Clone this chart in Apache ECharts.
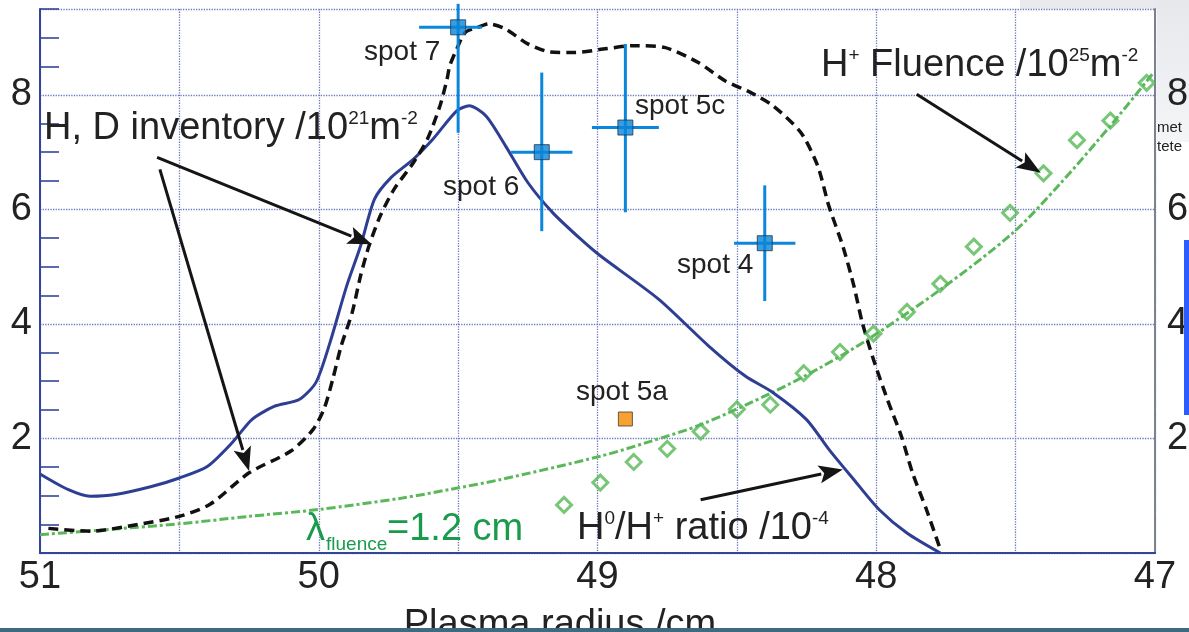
<!DOCTYPE html>
<html>
<head>
<meta charset="utf-8">
<script src="https://cdn.jsdelivr.net/npm/echarts@6/dist/echarts.min.js"></script>
<style>
  html, body { margin: 0; padding: 0; background: #fff; }
  #chart { width: 1189px; height: 632px; }
</style>
</head>
<body>
<div id="chart"></div>
<script>
// H0/H+ ratio (x10^-4) along plasma radius (cm)
const ratioX = [51.0, 50.90, 50.82, 50.73, 50.60, 50.50, 50.40, 50.31, 50.24, 50.16, 50.07, 50.01, 49.96, 49.90, 49.85, 49.80, 49.74, 49.66, 49.59, 49.505, 49.46, 49.40, 49.33, 49.25, 49.16, 49.06, 48.99, 48.78, 48.60, 48.47, 48.37, 48.25, 48.17, 48.08, 47.99, 47.89, 47.77];
const ratioY = [1.38, 1.11, 0.99, 1.02, 1.16, 1.31, 1.51, 1.93, 2.33, 2.56, 2.68, 2.98, 3.67, 4.66, 5.36, 6.18, 6.56, 6.88, 7.23, 7.72, 7.81, 7.63, 7.11, 6.47, 5.94, 5.48, 5.19, 4.43, 3.61, 3.09, 2.80, 2.33, 1.81, 1.28, 0.76, 0.35, 0.0];

// H, D inventory (x10^21 m^-2)
const invX = [50.97, 50.82, 50.67, 50.50, 50.39, 50.25, 50.10, 50.02, 49.98, 49.95, 49.92, 49.88, 49.85, 49.82, 49.78, 49.73, 49.66, 49.61, 49.565, 49.54, 49.53, 49.505, 49.475, 49.43, 49.39, 49.33, 49.25, 49.17, 49.08, 48.98, 48.87, 48.76, 48.64, 48.54, 48.45, 48.37, 48.27, 48.21, 48.17, 48.12, 48.08, 48.05, 48.01, 47.96, 47.91, 47.87, 47.82, 47.77];
const invY = [0.43, 0.38, 0.48, 0.64, 0.85, 1.40, 1.78, 2.16, 2.53, 3.03, 3.61, 4.20, 4.84, 5.36, 5.88, 6.35, 6.82, 7.23, 7.81, 8.27, 8.51, 8.80, 9.09, 9.18, 9.24, 9.15, 8.89, 8.75, 8.74, 8.80, 8.86, 8.83, 8.57, 8.24, 8.04, 7.81, 7.34, 6.76, 6.06, 5.36, 4.66, 4.02, 3.38, 2.68, 2.04, 1.40, 0.76, 0.06];

// H+ fluence fit, lambda = 1.2 cm (x10^25 m^-2)
const fitX = [51.0, 50.5, 50.25, 50.0, 49.7, 49.53, 49.35, 48.99, 48.81, 48.63, 48.37, 48.2, 48.03, 47.77, 47.51, 47.34, 47.15, 47.01];
const fitY = [0.32, 0.51, 0.64, 0.76, 0.96, 1.11, 1.28, 1.69, 1.95, 2.24, 2.81, 3.24, 3.73, 4.60, 5.59, 6.45, 7.52, 8.36];

// H+ fluence, measured points
const fluX = [49.12, 48.99, 48.87, 48.75, 48.63, 48.50, 48.38, 48.26, 48.13, 48.01, 47.89, 47.77, 47.65, 47.52, 47.40, 47.28, 47.16, 47.03];
const fluY = [0.84, 1.23, 1.59, 1.82, 2.12, 2.51, 2.59, 3.14, 3.51, 3.83, 4.21, 4.70, 5.35, 5.94, 6.63, 7.21, 7.55, 8.21];

// Spots with error bars: centre, x range, y range
const spotNames = ['spot 7', 'spot 6', 'spot 5c', 'spot 4'];
const spotX = [49.50, 49.20, 48.90, 48.40];
const spotY = [9.18, 7.00, 7.43, 5.41];
const spotXLo = [49.64, 49.31, 49.02, 48.51];
const spotXHi = [49.415, 49.09, 48.78, 48.29];
const spotYLo = [7.34, 5.62, 5.95, 4.40];
const spotYHi = [9.59, 8.39, 8.89, 6.42];

const spot5aX = [48.90];
const spot5aY = [2.34];

// Axis ticks
const xTicks = [51, 50, 49, 48, 47];
const yLabelTicks = [2, 4, 6, 8];
const yMinorTicks = [0.5, 1, 1.5, 2.5, 3, 3.5, 4.5, 5, 5.5, 6.5, 7, 7.5, 8.5, 9, 9.5];

// Annotation arrows: [fromX, fromY, toX, toY]
const arrowFromX = [50.58, 50.57, 47.855, 48.63];
const arrowFromY = [6.91, 6.70, 8.01, 0.93];
const arrowToX = [49.81, 50.25, 47.41, 48.12];
const arrowToY = [5.39, 1.43, 6.64, 1.46];

const zip = (a, b) => a.map((v, i) => [v, b[i]]);
const FONT = '"Liberation Sans", Arial, Helvetica, sans-serif';
const NAVY = '#33459a';
const GRIDC = '#6b78bc';

function rich(size, color) {
  return {
    n: { fontSize: size, lineHeight: size, fontFamily: FONT, color: color },
    s: { fontSize: Math.round(size * 0.5), lineHeight: Math.round(size * 0.5), fontFamily: FONT, color: color, verticalAlign: 'top' }
  };
}
function txt(text, x, baseline, size, color, richText) {
  return {
    type: 'text', x: x, y: baseline - size * 0.35, z: 50,
    style: {
      text: text, fill: color || '#222', font: size + 'px ' + FONT,
      align: 'left', verticalAlign: 'middle',
      rich: richText ? rich(size, color || '#222') : undefined
    }
  };
}

const chart = echarts.init(document.getElementById('chart'), null, { renderer: 'canvas' });

const option = {
  animation: false,
  backgroundColor: '#fff',
  grid: { left: 40, right: 34, top: 9, bottom: 79, containLabel: false, outerBoundsMode: 'none' },
  xAxis: [
    {
      type: 'value', min: 47, max: 51, interval: 0.5, inverse: true, position: 'bottom',
      axisLine: { show: true, lineStyle: { color: NAVY, width: 2 } },
      axisTick: { show: false },
      axisLabel: {
        margin: 6, fontSize: 38, fontFamily: FONT, color: '#222',
        formatter: v => xTicks.some(t => Math.abs(t - v) < 1e-6) ? String(Math.round(v)) : ''
      },
      splitLine: { show: true, lineStyle: { color: GRIDC, type: 'dotted', width: 1.3 } },
      name: 'Plasma radius /cm', nameLocation: 'middle', nameGap: 54,
      nameTextStyle: { fontSize: 38, fontFamily: FONT, color: '#222', padding: [0, 75, 0, 0] }
    },
    {
      type: 'value', min: 47, max: 51, interval: 0.5, inverse: true, position: 'top',
      axisLine: { show: true, lineStyle: { color: NAVY, width: 2 } },
      axisTick: { show: false }, axisLabel: { show: false }, splitLine: { show: false }
    }
  ],
  yAxis: [
    {
      type: 'value', min: 0, max: 9.5, interval: 2, position: 'left',
      axisLine: { show: true, lineStyle: { color: NAVY, width: 2 } },
      axisTick: { show: false },
      axisLabel: {
        margin: 8, fontSize: 38, fontFamily: FONT, color: '#222',
        formatter: v => yLabelTicks.indexOf(v) >= 0 ? String(v) : ''
      },
      splitLine: { show: true, lineStyle: { color: GRIDC, type: 'dotted', width: 1.3 } }
    },
    {
      type: 'value', min: 0, max: 9.5, interval: 2, position: 'right',
      axisLine: { show: true, lineStyle: { color: '#7d8090', width: 2 } },
      axisTick: { show: false },
      axisLabel: {
        margin: 12, fontSize: 38, fontFamily: FONT, color: '#222',
        formatter: v => yLabelTicks.indexOf(v) >= 0 ? String(v) : ''
      },
      splitLine: { show: false }
    },
    {
      type: 'value', min: 0, max: 9.5, interval: 0.5, position: 'left',
      axisLine: { show: false },
      axisTick: { show: true, inside: true, length: 19, customValues: yMinorTicks, lineStyle: { color: NAVY, width: 1.6 } },
      axisLabel: { show: false },
      splitLine: { show: false }
    }
  ],
  series: [
    {
      name: 'H0/H+ ratio', type: 'line', data: zip(ratioX, ratioY), smooth: 0.25,
      showSymbol: false, z: 3, silent: true,
      lineStyle: { color: '#2e3f93', width: 3 }
    },
    {
      name: 'H, D inventory', type: 'line', data: zip(invX, invY), smooth: 0.25,
      showSymbol: false, z: 4, silent: true,
      lineStyle: { color: '#111', width: 3.5, type: [10, 6] }
    },
    {
      name: 'fluence fit', type: 'line', data: zip(fitX, fitY), smooth: 0.3,
      showSymbol: false, z: 2, silent: true,
      lineStyle: { color: '#5bb85a', width: 3, type: [9, 3, 3, 3] }
    },
    {
      name: 'H+ fluence', type: 'scatter', data: zip(fluX, fluY),
      symbol: 'diamond', symbolSize: [15, 15], z: 5, silent: true,
      itemStyle: { color: 'rgba(255,255,255,0)', borderColor: '#58b858', borderWidth: 3 }
    },
    {
      name: 'error bars', type: 'custom', z: 6, clip: false, silent: true,
      data: spotX.map((x, i) => [x, spotY[i], spotXLo[i], spotXHi[i], spotYLo[i], spotYHi[i]]),
      renderItem: (params, api) => {
        const c = api.coord([api.value(0), api.value(1)]);
        const l = api.coord([api.value(2), api.value(1)]);
        const r = api.coord([api.value(3), api.value(1)]);
        const b = api.coord([api.value(0), api.value(4)]);
        const t = api.coord([api.value(0), api.value(5)]);
        const st = { stroke: '#0a87dc', lineWidth: 3 };
        return {
          type: 'group',
          children: [
            { type: 'line', shape: { x1: l[0], y1: c[1], x2: r[0], y2: c[1] }, style: st },
            { type: 'line', shape: { x1: c[0], y1: b[1], x2: c[0], y2: t[1] }, style: st }
          ]
        };
      }
    },
    {
      name: 'spots', type: 'scatter', data: zip(spotX, spotY), symbol: 'rect', symbolSize: 15,
      z: 7, silent: true, clip: false,
      itemStyle: { color: '#0a84d6', borderColor: '#1d3550', borderWidth: 1 }
    },
    {
      name: 'spot 5a', type: 'scatter', data: zip(spot5aX, spot5aY), symbol: 'rect', symbolSize: 14,
      z: 7, silent: true,
      itemStyle: { color: '#f28a00', borderColor: '#4a3a2a', borderWidth: 1 }
    },
    {
      // annotation arrows, drawn as a shaft and a filled head
      name: 'arrows', type: 'custom', z: 8, clip: false, silent: true,
      data: arrowFromX.map((x, i) => [x, arrowFromY[i], arrowToX[i], arrowToY[i]]),
      renderItem: (params, api) => {
        const p0 = api.coord([api.value(0), api.value(1)]);
        const p1 = api.coord([api.value(2), api.value(3)]);
        const dx = p1[0] - p0[0], dy = p1[1] - p0[1];
        const len = Math.sqrt(dx * dx + dy * dy);
        const ux = dx / len, uy = dy / len;
        const headL = 24, headW = 9;
        const bx = p1[0] - ux * headL, by = p1[1] - uy * headL;
        return {
          type: 'group',
          children: [
            { type: 'line', shape: { x1: p0[0], y1: p0[1], x2: bx + ux * 2, y2: by + uy * 2 },
              style: { stroke: '#151515', lineWidth: 3 } },
            { type: 'polygon', shape: { points: [
                [p1[0], p1[1]],
                [bx - uy * headW, by + ux * headW],
                [bx + ux * 5, by + uy * 5],
                [bx + uy * headW, by - ux * headW]
              ] },
              style: { fill: '#151515' } }
          ]
        };
      }
    }
  ],
  graphic: [
    // surrounding slide fragments
    { type: 'rect', shape: { x: 1020, y: 0, width: 169, height: 9 }, style: { fill: '#e8eaee' }, z: -1 },
    { type: 'rect', shape: { x: 1157, y: 0, width: 32, height: 142 },
      style: { fill: new echarts.graphic.LinearGradient(0, 0, 0, 1, [{ offset: 0, color: '#e6e8ec' }, { offset: 1, color: '#f4f5f7' }]) }, z: -1 },
    { type: 'text', x: 1157, y: 128, style: { text: 'met', font: '15px ' + FONT, fill: '#222', verticalAlign: 'middle' } },
    { type: 'text', x: 1157, y: 147, style: { text: 'tete', font: '15px ' + FONT, fill: '#222', verticalAlign: 'middle' } },
    { type: 'rect', shape: { x: 1184, y: 240, width: 5, height: 175 }, style: { fill: '#2a5cff' }, z: 60 },
    { type: 'rect', shape: { x: 0, y: 628, width: 1189, height: 4 }, style: { fill: '#3b6b7c' }, z: 60 },
    // annotations
    txt('spot 7', 364, 62, 28),
    txt('spot 6', 443, 197, 28),
    txt('spot 5c', 635, 116, 28),
    txt('spot 4', 677, 275, 28),
    txt('spot 5a', 576, 402, 28),
    txt('{n|H, D inventory /10}{s|21}{n|m}{s|-2}', 44, 142, 38, '#222', true),
    txt('{n|H}{s|+}{n| Fluence /10}{s|25}{n|m}{s|-2}', 821, 79, 38, '#222', true),
    txt('{n|H}{s|0}{n|/H}{s|+}{n| ratio /10}{s|-4}', 577, 542, 38, '#222', true),
    txt('λ', 306, 543, 38, '#1a9a4c'),
    txt('fluence', 326, 551, 19, '#1a9a4c'),
    txt('=1.2 cm', 387, 543, 38, '#1a9a4c')
  ]
};
chart.setOption(option);
</script>
</body>
</html>
